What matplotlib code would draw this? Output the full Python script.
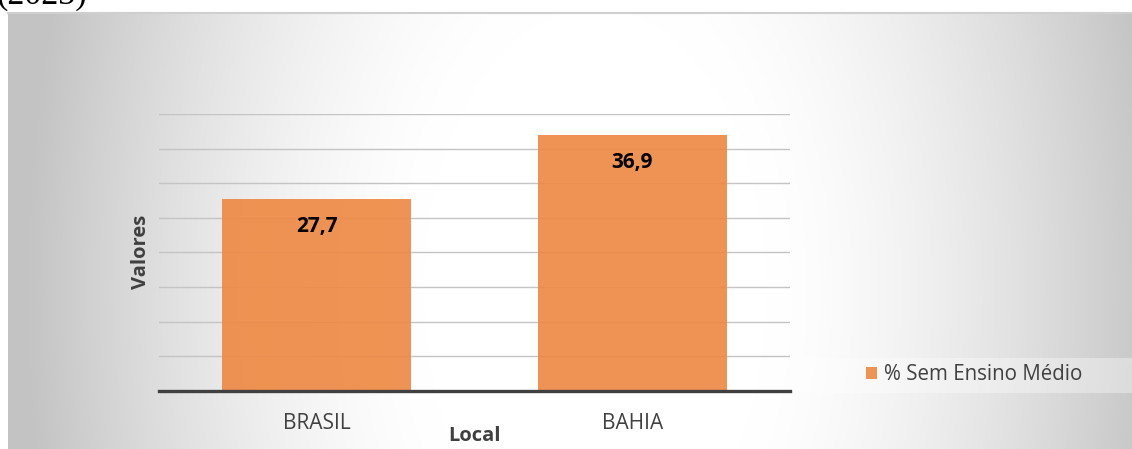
import numpy as np
import matplotlib.pyplot as plt
from matplotlib.patches import Rectangle

# data
locais = ['BRASIL', 'BAHIA']
sem_ensino_medio = [27.7, 36.9]
serie = '% Sem Ensino Médio'
rotulos = ['27,7', '36,9']

W, H = 1132, 449
plt.rcParams['font.family'] = ['Open Sans', 'DejaVu Sans']

fig = plt.figure(figsize=(W / 100, H / 100), dpi=100)
fig.patch.set_facecolor('white')

# background with radial shading (pixel coords, y down)
bg = fig.add_axes([0, 0, 1, 1], zorder=0)
bg.set_xlim(0, W)
bg.set_ylim(H, 0)
bg.axis('off')
xx, yy = np.meshgrid(np.arange(8, W) + 0.5, np.arange(12, H) + 0.5)
r = np.sqrt(((xx - 595) / 570) ** 2 + ((yy - 290) / 940) ** 2)
t = np.clip((r - 0.3) / 0.7, 0, 1) ** 1.5
shade = 255 - t * 60
img = np.dstack([shade, shade, shade]) / 255
bg.imshow(img, extent=[8, W, H, 12], aspect='auto', interpolation='bilinear')
bg.plot([8, W], [12.5, 12.5], color='#cfcfcf', lw=1.5)
bg.add_patch(Rectangle((799, 358), W - 799, 35, facecolor='white', alpha=0.35,
                       edgecolor='none'))
bg.text(-3, 4, '(2023)', family='Liberation Serif', fontsize=24.5, color='black',
        ha='left', va='baseline')

# main plot
ax = fig.add_axes([159 / W, 58 / H, 631 / W, 277 / H], zorder=1)
ax.patch.set_alpha(0)
x = np.arange(len(locais))
bars = ax.bar(x, sem_ensino_medio, width=0.6, color='#ee8a45', alpha=0.92,
              label=serie, zorder=2)
ax.set_xlim(-0.5, 1.5)
ax.set_ylim(0, 40)
ax.set_yticks(np.arange(5, 45, 5))
ax.yaxis.grid(True, color='#c4c4c4', lw=1)
ax.set_axisbelow(True)
ax.axhline(0, color='#404040', lw=2.4, zorder=3, clip_on=False)
for s in ax.spines.values():
    s.set_visible(False)
ax.tick_params(axis='y', left=False, labelleft=False)
ax.tick_params(axis='x', length=0, pad=15.5, labelsize=15, labelcolor='#404040')
ax.set_xticks(x)
ax.set_xticklabels(locais)

for b, lab in zip(bars, rotulos):
    ax.annotate(lab, (b.get_x() + b.get_width() / 2, b.get_height()),
                xytext=(0, -19.5), textcoords='offset points', ha='center',
                va='center', fontsize=15, fontweight='bold', color='black')

bg.text(475, 436, 'Local', fontsize=14.5, fontweight='bold', color='#404040',
        ha='center', va='center')
bg.text(141, 252, 'Valores', fontsize=14.5, fontweight='bold', color='#404040',
        ha='center', va='center', rotation=90)

fig.legend(handles=[bars], labels=[serie], loc='center left',
           bbox_to_anchor=(866 / W, 1 - 375 / H), frameon=False,
           fontsize=14.8, labelcolor='#404040', handlelength=0.52,
           handleheight=0.52, handletextpad=0.38, borderpad=0, borderaxespad=0)

fig.savefig('out.png', dpi=100)
